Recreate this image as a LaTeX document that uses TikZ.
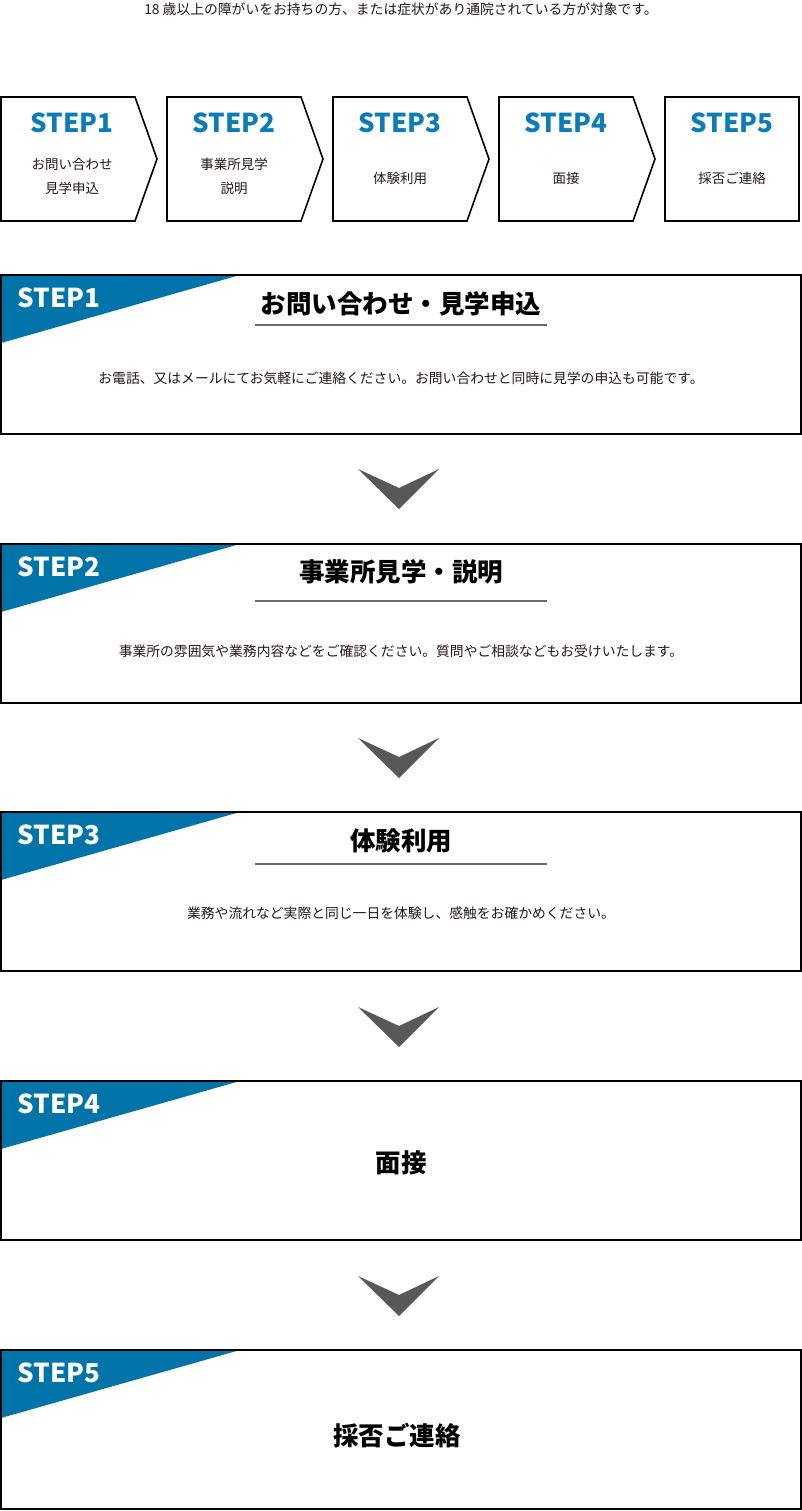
\documentclass[tikz,border=0pt]{standalone}
\usepackage{fontspec}
\setmainfont{Noto Sans CJK JP}
\usetikzlibrary{calc}
\definecolor{stepblue}{HTML}{0074A8}
\definecolor{tabblue}{HTML}{0A7DB8}
\definecolor{arrowgray}{HTML}{595757}
\definecolor{rulegray}{HTML}{6B6B6B}
\definecolor{inkblack}{HTML}{231815}
\tikzset{
  frame/.style={draw=black,line width=1.6pt},
  tabstep/.style={text=tabblue,font=\bfseries\fontsize{26}{26}\selectfont},
  tabtext/.style={text=inkblack,align=center,font=\fontsize{13.5}{24}\selectfont},
  bannerstep/.style={text=white,anchor=west,font=\bfseries\fontsize{26}{26}\selectfont},
  cardtitle/.style={text=black,font=\bfseries\fontsize{25.5}{27}\selectfont},
  cardtext/.style={text=inkblack,font=\fontsize{13.8}{16}\selectfont},
  titlerule/.style={draw=rulegray,line width=1.3pt},
  chevron/.style={fill=arrowgray}
}

\begin{document}
\begin{tikzpicture}[x=1pt,y=-1pt]
    \useasboundingbox (0,0) rectangle (802,1511);

    \node[cardtext] (intro) at (401,9) {18 歳以上の障がいをお持ちの方、または症状があり通院されている方が対象です。};

    % step tabs
    \draw[frame] (1,97) -- (135,97) -- (157,159) -- (135,221) -- (1,221) -- cycle;
    \draw[frame] (167,97) -- (301,97) -- (323,159) -- (301,221) -- (167,221) -- cycle;
    \draw[frame] (333,97) -- (467,97) -- (489,159) -- (467,221) -- (333,221) -- cycle;
    \draw[frame] (499,97) -- (633,97) -- (655,159) -- (633,221) -- (499,221) -- cycle;
    \draw[frame] (665,97) rectangle (799,221);

    \node[tabstep] (tab1) at (72,123) {STEP1};
    \node[tabstep] (tab2) at (234,123) {STEP2};
    \node[tabstep] (tab3) at (400,123) {STEP3};
    \node[tabstep] (tab4) at (566,123) {STEP4};
    \node[tabstep] (tab5) at (732,123) {STEP5};

    \node[tabtext] (tab1text) at (72,176) {お問い合わせ\\見学申込};
    \node[tabtext] (tab2text) at (234,176) {事業所見学\\説明};
    \node[tabtext] (tab3text) at (400,178) {体験利用};
    \node[tabtext] (tab4text) at (566,178) {面接};
    \node[tabtext] (tab5text) at (732,178) {採否ご連絡};

    % step 1
    \fill[stepblue] (1,275) -- (240,275) -- (1,343) -- cycle;
    \draw[frame] (1,275) rectangle (801,434);
    \node[bannerstep] (card1step) at (14,298) {STEP1};
    \node[cardtitle] (card1title) at (401,304) {お問い合わせ・見学申込};
    \draw[titlerule] (255,325) -- (547,325);
    \node[cardtext] (card1text) at (401,378) {お電話、又はメールにてお気軽にご連絡ください。お問い合わせと同時に見学の申込も可能です。};

    \fill[chevron] (358,469) -- (399,488) -- (439,469) -- (399,509) -- cycle;

    % step 2
    \fill[stepblue] (1,544) -- (240,544) -- (1,612) -- cycle;
    \draw[frame] (1,544) rectangle (801,703);
    \node[bannerstep] (card2step) at (14,567) {STEP2};
    \node[cardtitle] (card2title) at (401,572) {事業所見学・説明};
    \draw[titlerule] (255,601) -- (547,601);
    \node[cardtext] (card2text) at (401,651) {事業所の雰囲気や業務内容などをご確認ください。質問やご相談などもお受けいたします。};

    \fill[chevron] (358,738) -- (399,757) -- (439,738) -- (399,778) -- cycle;

    % step 3
    \fill[stepblue] (1,812) -- (240,812) -- (1,880) -- cycle;
    \draw[frame] (1,812) rectangle (801,971);
    \node[bannerstep] (card3step) at (14,835) {STEP3};
    \node[cardtitle] (card3title) at (401,841) {体験利用};
    \draw[titlerule] (255,864) -- (547,864);
    \node[cardtext] (card3text) at (401,913) {業務や流れなど実際と同じ一日を体験し、感触をお確かめください。};

    \fill[chevron] (358,1007) -- (399,1026) -- (439,1007) -- (399,1047) -- cycle;

    % step 4
    \fill[stepblue] (1,1081) -- (240,1081) -- (1,1149) -- cycle;
    \draw[frame] (1,1081) rectangle (801,1240);
    \node[bannerstep] (card4step) at (14,1104) {STEP4};
    \node[cardtitle] (card4title) at (401,1163) {面接};

    \fill[chevron] (358,1276) -- (399,1295) -- (439,1276) -- (399,1316) -- cycle;

    % step 5
    \fill[stepblue] (1,1350) -- (240,1350) -- (1,1418) -- cycle;
    \draw[frame] (1,1350) rectangle (801,1509);
    \node[bannerstep] (card5step) at (14,1373) {STEP5};
    \node[cardtitle] (card5title) at (397,1436) {採否ご連絡};
\end{tikzpicture}
\end{document}
